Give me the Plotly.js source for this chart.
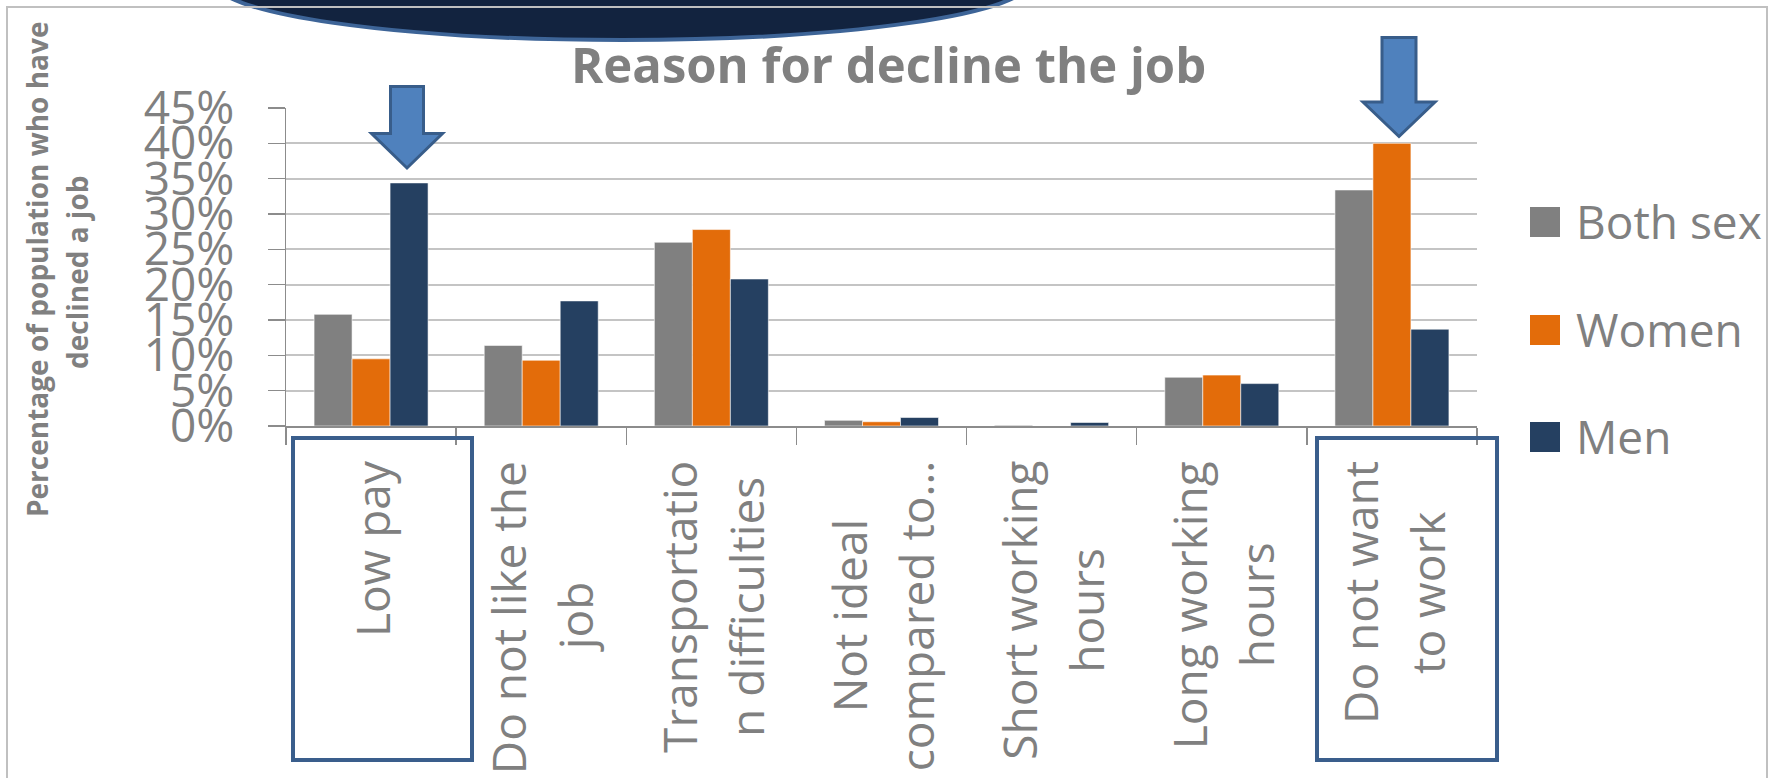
<!DOCTYPE html>
<html>
<head>
<meta charset="utf-8">
<script src="https://cdn.plot.ly/plotly-3.0.1.min.js"></script>
<style>html,body{margin:0;padding:0;background:#fff;}#chart{width:1771px;height:778px;}</style>
</head>
<body>
<div id="chart"></div>
<script>
// ---------- data ----------
const categories = ["Low pay", "Do not like the job", "Transportation difficulties",
  "Not ideal compared to…", "Short working hours", "Long working hours", "Do not want to work"];
const labelLines = [["Low pay"], ["Do not like the", "job"], ["Transportatio", "n difficulties"],
  ["Not ideal", "compared to…"], ["Short working", "hours"], ["Long working", "hours"], ["Do not want", "to work"]];
const seriesNames = ["Both sex", "Women", "Men"];
const bothSex = [15.8, 11.4, 26.0, 0.8, 0.1, 6.9, 33.4];
const women   = [9.5, 9.3, 27.8, 0.6, 0.0, 7.2, 40.0];
const men     = [34.4, 17.7, 20.8, 1.2, 0.5, 6.0, 13.7];
const yTickVals = [0, 5, 10, 15, 20, 25, 30, 35, 40, 45];
const titleText = "Reason for decline the job";
const yTitleLines = ["Percentage of population who have", "declined a job"];

// ---------- styling / layout ----------
const colors = ["#808080", "#E36C0A", "#254061"];
const FONT = "Open Sans";
const GRAY = "#808080";
const W = 1771, H = 778;
const L = 286, T = 108, PW = 1191, PH = 318;
const px2x = px => (px - L) / PW;
const py2y = py => (T + PH - py) / PH;

const traces = [bothSex, women, men].map((vals, k) => ({
  type: "bar", name: seriesNames[k], x: categories, y: vals,
  marker: {color: colors[k], line: {color: "rgba(255,255,255,0.7)", width: 0.8}},
  showlegend: false, hoverinfo: "x+y+name"
}));

const ctx = document.createElement("canvas").getContext("2d");
ctx.font = "46px '" + FONT + "'";
const measure = s => ctx.measureText(s).width;

const annotations = [];
// title
annotations.push({xref: "paper", yref: "paper", x: px2x(888), y: py2y(64), xanchor: "center", yanchor: "middle",
  text: titleText, showarrow: false, font: {family: FONT, size: 49, color: GRAY, weight: 700}});
// y axis title (two rotated lines)
[[37, 270], [77, 273]].forEach((p, j) => {
  annotations.push({xref: "paper", yref: "paper", x: px2x(p[0]), y: py2y(p[1]), xanchor: "center", yanchor: "middle",
    textangle: -90, text: yTitleLines[j], showarrow: false, font: {family: FONT, size: 28, color: GRAY, weight: 700}});
});
// category labels
const pitch = 67, blockShift = 1;
labelLines.forEach((lines, i) => {
  const maxW = Math.max(...lines.map(measure));
  const cy = 461 + maxW / 2;
  lines.forEach((s, j) => {
    annotations.push({xref: "x", x: categories[i], xshift: blockShift + (j - (lines.length - 1) / 2) * pitch,
      yref: "paper", y: py2y(cy), xanchor: "center", yanchor: "middle", textangle: -90,
      text: s, showarrow: false, font: {family: FONT, size: 46, color: GRAY}});
  });
});
// legend
const legendY = [222, 330, 437];
const shapes = [];
// decorative ellipse at top
shapes.push({type: "circle", xref: "paper", yref: "paper", x0: px2x(214), x1: px2x(1030), y0: py2y(-77), y1: py2y(40),
  fillcolor: "#12233F", line: {color: "#3D6497", width: 4}});
// chart frame
shapes.push({type: "rect", xref: "paper", yref: "paper", x0: px2x(7), x1: px2x(1767), y0: py2y(7), y1: py2y(820),
  line: {color: "#C0C0C0", width: 2}});
seriesNames.forEach((n, k) => {
  shapes.push({type: "rect", xref: "paper", yref: "paper", x0: px2x(1530), x1: px2x(1560),
    y0: py2y(legendY[k] - 15), y1: py2y(legendY[k] + 15), fillcolor: colors[k], line: {width: 0}});
  annotations.push({xref: "paper", yref: "paper", x: px2x(1574), y: py2y(legendY[k] - 1), xanchor: "left", yanchor: "middle",
    text: n, showarrow: false, font: {family: FONT, size: 46, color: GRAY}});
});
// highlight boxes around labels
[[293, 472], [1317, 1497]].forEach(b => {
  shapes.push({type: "rect", xref: "paper", yref: "paper", x0: px2x(b[0]), x1: px2x(b[1]), y0: py2y(438), y1: py2y(760),
    line: {color: "#3A5E8C", width: 4}});
});
// block arrows
function arrowPath(cx, top, headTop, tip, shaftHalf, headHalf) {
  const X = v => px2x(v), Y = v => py2y(v);
  return `M${X(cx - shaftHalf)},${Y(top)} L${X(cx + shaftHalf)},${Y(top)} L${X(cx + shaftHalf)},${Y(headTop)} ` +
    `L${X(cx + headHalf)},${Y(headTop)} L${X(cx)},${Y(tip)} L${X(cx - headHalf)},${Y(headTop)} ` +
    `L${X(cx - shaftHalf)},${Y(headTop)} Z`;
}
[[407, 86.5, 133.5, 168, 16.5, 35.5], [1399, 37.5, 102, 136.5, 17, 36]].forEach(a => {
  shapes.push({type: "path", xref: "paper", yref: "paper", path: arrowPath(...a),
    fillcolor: "#4F81BD", line: {color: "#385D8A", width: 3}});
});

const layout = {
  width: W, height: H,
  margin: {l: L, r: W - L - PW, t: T, b: H - T - PH, pad: 0},
  paper_bgcolor: "#fff", plot_bgcolor: "#fff",
  barmode: "group", bargap: 0.33, bargroupgap: 0,
  showlegend: false,
  font: {family: FONT, color: GRAY},
  xaxis: {type: "category", showticklabels: false, ticks: "outside", tickson: "boundaries", ticklen: 17,
    tickwidth: 1.5, tickcolor: "#8C8C8C", showline: true, linecolor: "#8C8C8C", linewidth: 1.5,
    showgrid: false, zeroline: false, fixedrange: true},
  yaxis: {range: [0, 45], tickvals: yTickVals, ticktext: yTickVals.map(v => v + "%"),
    ticks: "outside", ticklen: 17, tickwidth: 1.5, tickcolor: "#8C8C8C",
    ticklabelstandoff: 24, tickfont: {family: FONT, size: 46, color: GRAY},
    showline: true, linecolor: "#8C8C8C", linewidth: 1.5,
    showgrid: true, gridcolor: "#C4C4C4", gridwidth: 2, zeroline: false, fixedrange: true},
  shapes: shapes,
  annotations: annotations
};

Plotly.newPlot("chart", traces, layout, {displayModeBar: false, staticPlot: true});
</script>
</body>
</html>
